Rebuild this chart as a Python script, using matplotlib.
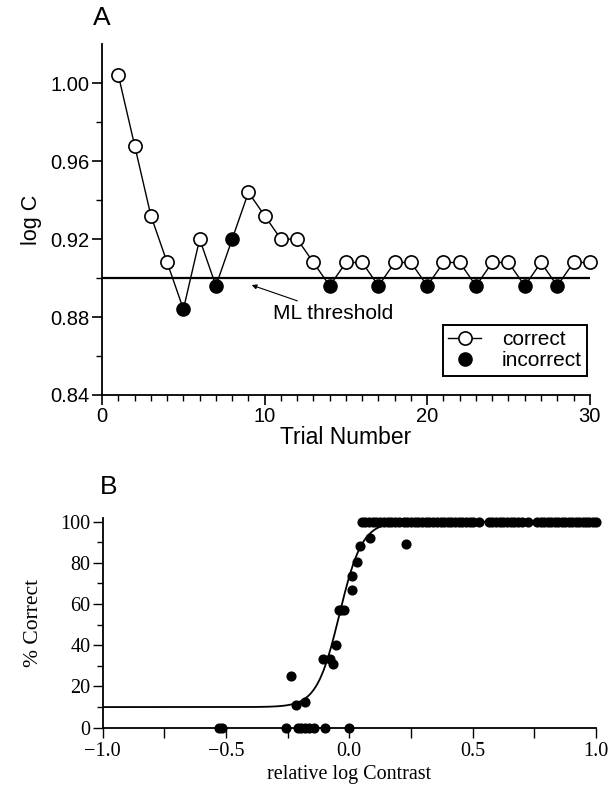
import numpy as np
import matplotlib
matplotlib.use("Agg")
import matplotlib.pyplot as plt
from matplotlib.lines import Line2D
from matplotlib.ticker import MultipleLocator, FixedLocator, FormatStrFormatter, FuncFormatter

# ---------------- Panel A data ----------------
trials = list(range(1, 31))
log_c = [1.004, 0.968, 0.932, 0.908, 0.884, 0.920, 0.896, 0.920, 0.944, 0.932,
         0.920, 0.920, 0.908, 0.896, 0.908, 0.908, 0.896, 0.908, 0.908, 0.896,
         0.908, 0.908, 0.896, 0.908, 0.908, 0.896, 0.908, 0.896, 0.908, 0.908]
correct = [1, 1, 1, 1, 0, 1, 0, 0, 1, 1, 1, 1, 1, 0, 1, 1, 0, 1, 1, 0,
           1, 1, 0, 1, 1, 0, 1, 0, 1, 1]
ml_threshold = 0.900

# ---------------- Panel B data ----------------
zero_x = [-0.53, -0.515, -0.255, -0.21, -0.195, -0.18, -0.165, -0.145, -0.10, 0.0]
mid_x = [-0.235, -0.217, -0.181, -0.108, -0.079, -0.066, -0.053, -0.042, -0.032,
         -0.020, 0.009, 0.009, 0.033, 0.045, 0.083, 0.229]
mid_y = [25, 11, 12.5, 33.5, 33.5, 31, 40, 57, 57, 57, 67, 73.5, 80.5, 88, 92, 89]
full_x = [0.05, 0.065, 0.08, 0.095, 0.11, 0.125, 0.14, 0.155, 0.17, 0.186, 0.20,
          0.222, 0.236, 0.25, 0.265, 0.28, 0.295, 0.31, 0.325, 0.34, 0.356, 0.37,
          0.385, 0.40, 0.414, 0.43, 0.444, 0.458, 0.472, 0.488, 0.503, 0.527,
          0.565, 0.58, 0.594, 0.61, 0.624, 0.64, 0.655, 0.67, 0.686, 0.70, 0.726,
          0.762, 0.776, 0.79, 0.805, 0.82, 0.834, 0.848, 0.862, 0.876, 0.89,
          0.904, 0.918, 0.932, 0.946, 0.96, 0.974, 0.988, 1.0]
# fitted psychometric function parameters (floor, midpoint, slope)
fit_floor = 10.0
fit_mid = -0.040
fit_slope = 0.046

sans = ['Liberation Sans', 'DejaVu Sans']
serif = ['Liberation Serif', 'DejaVu Serif']

fig = plt.figure(figsize=(6.08, 7.9), dpi=100)

# ================= Panel A =================
axA = fig.add_axes([0.168, 0.500, 0.802, 0.444])
axA.plot([0, 30], [ml_threshold, ml_threshold], color='black', lw=1.6, zorder=2)
axA.plot(trials, log_c, color='black', lw=1.0, zorder=3)
cx = [t for t, c in zip(trials, correct) if c]
cy = [v for v, c in zip(log_c, correct) if c]
ix = [t for t, c in zip(trials, correct) if not c]
iy = [v for v, c in zip(log_c, correct) if not c]
axA.plot(cx, cy, 'o', ms=9.5, mfc='white', mec='black', mew=1.2, zorder=4, clip_on=False)
axA.plot(ix, iy, 'o', ms=9.5, mfc='black', mec='black', zorder=4, clip_on=False)

axA.set_xlim(0, 30)
axA.set_ylim(0.84, 1.02)
for s in ['top', 'right']:
    axA.spines[s].set_visible(False)
for s in ['left', 'bottom']:
    axA.spines[s].set_linewidth(1.3)
axA.xaxis.set_major_locator(FixedLocator([0, 10, 20, 30]))
axA.xaxis.set_minor_locator(MultipleLocator(1))
axA.yaxis.set_major_locator(FixedLocator([0.84, 0.88, 0.92, 0.96, 1.00]))
axA.yaxis.set_minor_locator(FixedLocator([0.86, 0.90, 0.94, 0.98]))
axA.yaxis.set_major_formatter(FormatStrFormatter('%.2f'))
axA.tick_params(which='major', direction='out', length=7, width=1.2, labelsize=14.5)
axA.tick_params(which='minor', direction='out', length=4, width=1.0)
axA.tick_params(axis='y', which='major', pad=2)
axA.tick_params(axis='x', which='major', pad=2)
for lab in axA.get_xticklabels() + axA.get_yticklabels():
    lab.set_family(sans)
axA.set_xlabel('Trial Number', family=sans, fontsize=16.5, labelpad=0)
axA.set_ylabel('log C', family=sans, fontsize=15.5, labelpad=6)

axA.annotate('ML threshold', xy=(9.2, 0.8964), xytext=(10.5, 0.882),
             family=sans, fontsize=15, va='center', ha='left',
             arrowprops=dict(arrowstyle='-|>', color='black', lw=0.8,
                             mutation_scale=7, shrinkA=0, shrinkB=0))

h1 = Line2D([], [], color='black', lw=1.0, marker='o', ms=9.5, mfc='white', mec='black', mew=1.2)
h2 = Line2D([], [], color='none', marker='o', ms=9.5, mfc='black', mec='black')
leg = axA.legend([h1, h2], ['correct', 'incorrect'], loc='lower right',
                 bbox_to_anchor=(0.995, 0.055), prop={'family': sans, 'size': 15},
                 frameon=True, fancybox=False, edgecolor='black', framealpha=1,
                 handlelength=1.6, handletextpad=1.0, borderpad=0.25, labelspacing=0.1,
                 borderaxespad=0.0)
leg.get_frame().set_linewidth(1.4)

fig.text(0.168, 0.977, 'A', family=sans, fontsize=19, ha='center', va='center')

# ================= Panel B =================
axB = fig.add_axes([0.169, 0.0789, 0.811, 0.2654])
xc = np.linspace(-1, 1, 600)
yc = fit_floor + (100 - fit_floor) / (1 + np.exp(-(xc - fit_mid) / fit_slope))
axB.plot(xc, yc, color='black', lw=1.3, zorder=2)
axB.plot(zero_x, [0] * len(zero_x), 'o', color='black', ms=6.3, clip_on=False, zorder=3)
axB.plot(mid_x, mid_y, 'o', color='black', ms=6.3, clip_on=False, zorder=3)
axB.plot(full_x, [100] * len(full_x), 'o', color='black', ms=6.3, clip_on=False, zorder=3)

axB.set_xlim(-1, 1)
axB.set_ylim(0, 101.8)
for s in ['top', 'right']:
    axB.spines[s].set_visible(False)
for s in ['left', 'bottom']:
    axB.spines[s].set_linewidth(1.3)
axB.xaxis.set_major_locator(FixedLocator([-1.0, -0.5, 0.0, 0.5, 1.0]))
axB.xaxis.set_minor_locator(FixedLocator([-0.75, -0.25, 0.25, 0.75]))
axB.xaxis.set_major_formatter(FuncFormatter(lambda v, p: ('%.1f' % v).replace('-', '\u2212')))
axB.yaxis.set_major_locator(FixedLocator([0, 20, 40, 60, 80, 100]))
axB.yaxis.set_minor_locator(FixedLocator([10, 30, 50, 70, 90]))
axB.tick_params(which='major', direction='out', length=7, width=1.0, labelsize=14.5)
axB.tick_params(which='minor', direction='out', length=4, width=1.0)
axB.tick_params(axis='x', which='minor', length=7)
axB.tick_params(axis='y', which='major', pad=2)
for lab in axB.get_xticklabels() + axB.get_yticklabels():
    lab.set_family(serif)
axB.set_xlabel('relative log Contrast', family=serif, fontsize=14.5, labelpad=3)
axB.set_ylabel('% Correct', family=serif, fontsize=15.5, labelpad=12)

fig.text(0.178, 0.383, 'B', family=sans, fontsize=19, ha='center', va='center')

fig.savefig('out.png', dpi=100)
